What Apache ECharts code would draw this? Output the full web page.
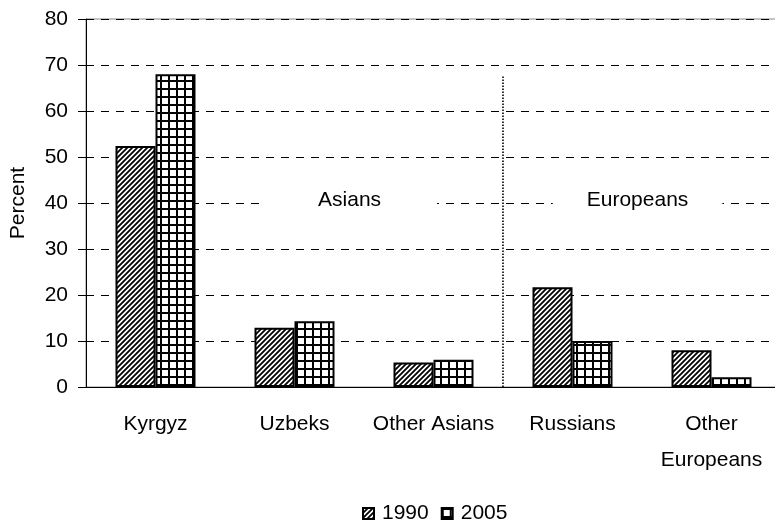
<!DOCTYPE html>
<html>
<head>
<meta charset="utf-8">
<script src="https://cdn.jsdelivr.net/npm/echarts@6/dist/echarts.min.js"></script>
<style>html,body{margin:0;padding:0;background:#fff;}#c{width:775px;height:522px;}</style>
</head>
<body>
<div id="c"></div>
<script>
var categories = ['Kyrgyz', 'Uzbeks', 'Other Asians', 'Russians', 'Other\nEuropeans'];
var values1990 = [52.4, 12.9, 5.3, 21.7, 8.0];
var values2005 = [68.0, 14.3, 5.9, 10.0, 2.1];
var yTicks = [0, 10, 20, 30, 40, 50, 60, 70, 80];
var groupLabels = [
  { name: 'Asians', value: [1.896, 40.6] },
  { name: 'Europeans', value: [3.968, 40.6] }
];
var dividerLine = [[3, 0], [3, 67.8]];

function makeDiag() {
  var c = document.createElement('canvas');
  c.width = 5; c.height = 5;
  var g = c.getContext('2d');
  g.fillStyle = '#fff'; g.fillRect(0, 0, 5, 5);
  g.strokeStyle = '#000'; g.lineWidth = 1.8;
  g.beginPath();
  g.moveTo(0, 5); g.lineTo(5, 0);
  g.moveTo(-1, 1); g.lineTo(1, -1);
  g.moveTo(4, 6); g.lineTo(6, 4);
  g.stroke();
  return c;
}
function makeGrid() {
  var c = document.createElement('canvas');
  c.width = 8; c.height = 8;
  var g = c.getContext('2d');
  g.fillStyle = '#fff'; g.fillRect(0, 0, 8, 8);
  g.fillStyle = '#000';
  g.fillRect(0, 0, 8, 2);
  g.fillRect(0, 0, 2, 8);
  return c;
}

var FONT = 'Liberation Sans';
var FS = 21;
var chart = echarts.init(document.getElementById('c'), null, { renderer: 'canvas' });
chart.setOption({
  animation: false,
  backgroundColor: '#fff',
  textStyle: { fontFamily: FONT, color: '#000' },
  grid: { left: 86, right: -6, top: 19, bottom: 135, show: true, borderColor: '#888', borderWidth: 1, backgroundColor: 'transparent', outerBoundsMode: 'none', containLabel: false },
  legend: {
    data: ['1990', '2005'],
    left: 357, top: 498,
    itemWidth: 11, itemHeight: 11, itemGap: 12,
    icon: 'rect',
    textStyle: { fontFamily: FONT, fontSize: FS, color: '#000', padding: [0, 0, 0, 3] }
  },
  xAxis: [{
    type: 'category',
    data: categories,
    axisLine: { lineStyle: { color: '#000', width: 1 } },
    axisTick: { length: 7, lineStyle: { color: '#000' } },
    axisLabel: { interval: 0, fontFamily: FONT, fontSize: FS, color: '#000', margin: 19, lineHeight: 36 },
    splitLine: { show: false }
  }, {
    type: 'value', min: 0, max: categories.length, show: false
  }],
  yAxis: {
    type: 'value',
    min: yTicks[0], max: yTicks[yTicks.length - 1], interval: yTicks[1] - yTicks[0],
    name: 'Percent', nameLocation: 'middle', nameGap: 57,
    nameTextStyle: { fontFamily: FONT, fontSize: FS, color: '#000' },
    axisLine: { show: true, lineStyle: { color: '#000', width: 1 } },
    axisTick: { show: true, length: 8, lineStyle: { color: '#000' } },
    axisLabel: { fontFamily: FONT, fontSize: FS, color: '#000', margin: 18 },
    splitLine: { show: true, lineStyle: { color: '#000', width: 1, type: [8, 7] } }
  },
  series: [{
    name: '1990', type: 'bar', data: values1990,
    barWidth: 40, barGap: '0%',
    itemStyle: { color: { image: makeDiag(), repeat: 'repeat' }, borderColor: '#000', borderWidth: 2 }
  }, {
    name: '2005', type: 'bar', data: values2005,
    barWidth: 40, barGap: '0%',
    itemStyle: { color: { image: makeGrid(), repeat: 'repeat' }, borderColor: '#000', borderWidth: 2 }
  }, {
    name: 'divider', type: 'line', xAxisIndex: 1, data: dividerLine,
    symbol: 'none', silent: true,
    lineStyle: { color: '#000', width: 1.6, type: [1.5, 1.5] }
  }, {
    name: 'groups', type: 'scatter', xAxisIndex: 1, symbolSize: 0, silent: true,
    itemStyle: { opacity: 1 },
    data: [
      { name: groupLabels[0].name, value: groupLabels[0].value, label: { padding: [6, 56, 6, 56] } },
      { name: groupLabels[1].name, value: groupLabels[1].value, label: { padding: [6, 34, 6, 34] } }
    ],
    label: {
      show: true, position: 'inside', formatter: '{b}', opacity: 1,
      fontFamily: FONT, fontSize: FS, color: '#000', backgroundColor: '#fff'
    },
    z: 5
  }]
});
</script>
</body>
</html>
